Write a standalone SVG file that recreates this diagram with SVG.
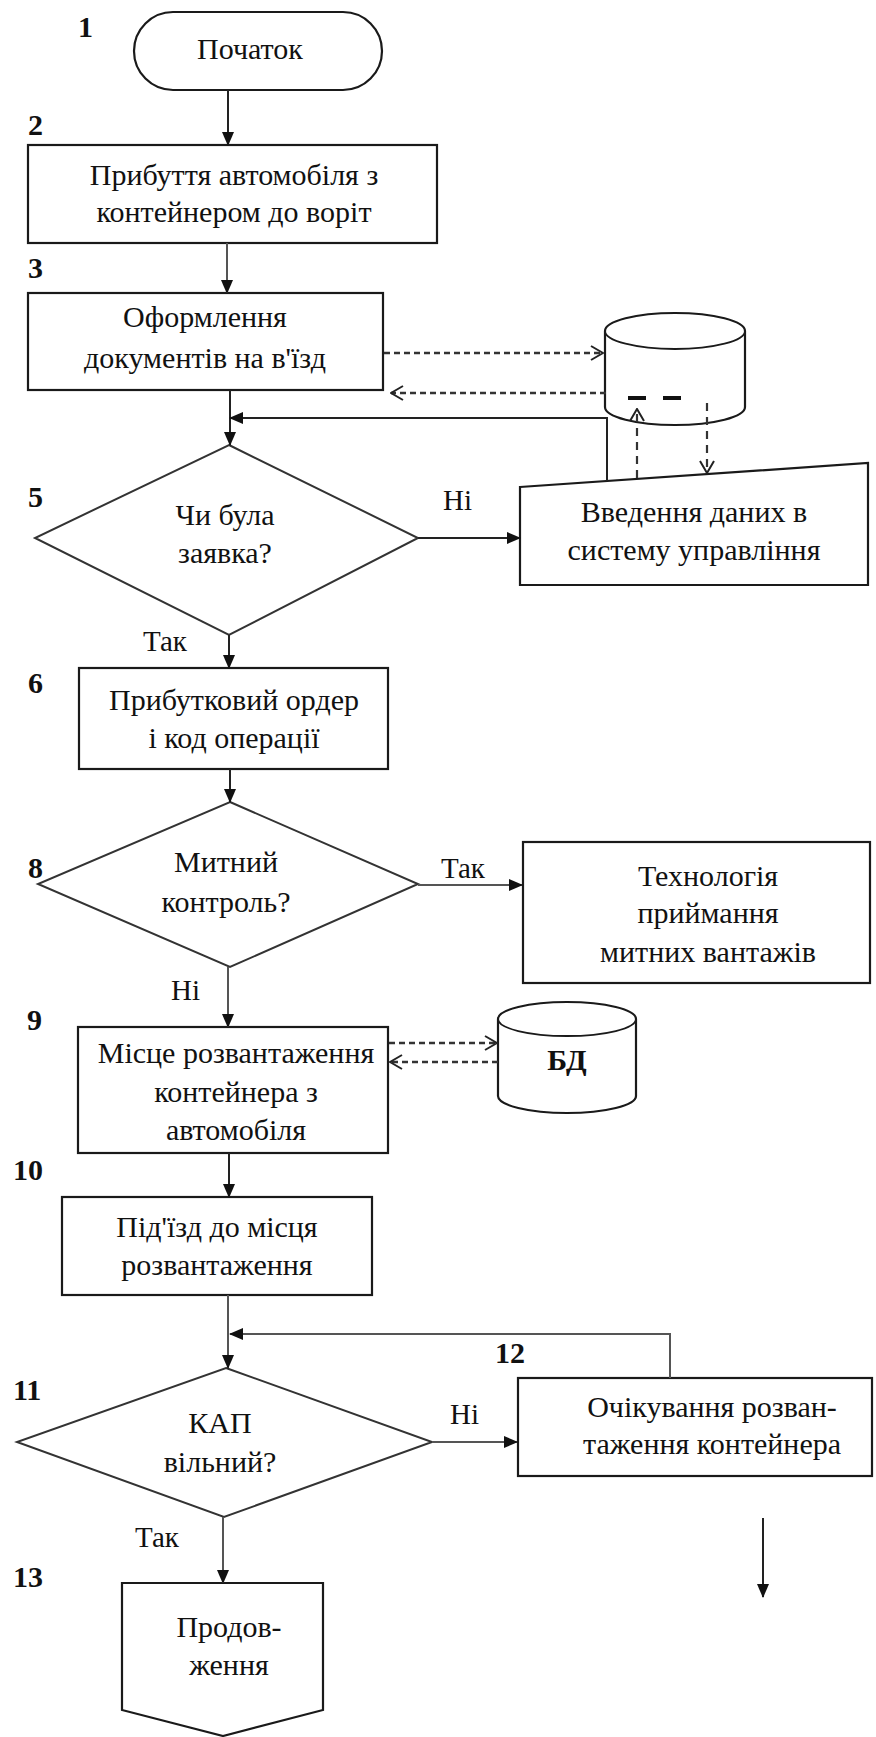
<svg xmlns="http://www.w3.org/2000/svg" width="876" height="1737" viewBox="0 0 876 1737">
<style>
.bg{fill:#fff}
.box{fill:#fff;stroke:#1a1a1a;stroke-width:2.2}
.dia{fill:#fff;stroke:#333;stroke-width:2}
.t{font-family:'Liberation Serif','DejaVu Serif','Times New Roman',serif;font-size:30px;fill:#111;text-anchor:middle}
.lb{font-family:'Liberation Serif','DejaVu Serif','Times New Roman',serif;font-size:29px;fill:#111}
.num{font-family:'Liberation Serif','DejaVu Serif','Times New Roman',serif;font-size:30px;font-weight:bold;fill:#111}
.c{fill:none;stroke:#222;stroke-width:2}
.g{fill:none;stroke:#555;stroke-width:2}
.d{fill:none;stroke:#333;stroke-width:2.6;stroke-dasharray:6,4}
.dv{fill:none;stroke:#333;stroke-width:2.2;stroke-dasharray:8,6}
</style>
<defs>
<marker id="ah" markerUnits="userSpaceOnUse" markerWidth="14" markerHeight="14" viewBox="0 0 14 14" refX="13" refY="7" orient="auto">
<path d="M0,1 L14,7 L0,13 Z" fill="#111"/>
</marker>
<marker id="oh" markerUnits="userSpaceOnUse" markerWidth="14" markerHeight="16" viewBox="0 0 14 16" refX="13" refY="8" orient="auto">
<path d="M1,1 L13,8 L1,15" fill="none" stroke="#222" stroke-width="2"/>
</marker>
</defs>
<rect class="bg" x="0" y="0" width="876" height="1737"/>

<g id="n1">
<rect class="box" x="134" y="12" width="248" height="78" rx="39" ry="39"/>
<text class="t" x="250" y="59">Початок</text>
<text class="num" x="78" y="37">1</text>
</g>
<g id="n2">
<rect class="box" x="28" y="145" width="409" height="98"/>
<text class="t" x="234" y="185">Прибуття автомобіля з</text>
<text class="t" x="234" y="222">контейнером до воріт</text>
<text class="num" x="28" y="135">2</text>
</g>
<g id="n3">
<rect class="box" x="28" y="293" width="355" height="97"/>
<text class="t" x="205" y="327">Оформлення</text>
<text class="t" x="205" y="368">документів на в'їзд</text>
<text class="num" x="28" y="278">3</text>
</g>
<g id="n4">
<path class="box" d="M605,331 A70,18 0 0 1 745,331 L745,407 A70,18 0 0 1 605,407 Z" stroke-width="1.8"/>
<path fill="none" stroke="#1a1a1a" stroke-width="1.8" d="M605,331 A70,18 0 0 0 745,331"/>
</g>
<g id="n5">
<polygon class="dia" points="229,445 418,538 229,635 35,538"/>
<text class="t" x="225" y="525">Чи була</text>
<text class="t" x="225" y="563">заявка?</text>
<text class="num" x="28" y="507">5</text>
</g>
<g id="n5b">
<polygon class="box" points="520,487 868,463 868,585 520,585"/>
<text class="t" x="694" y="522">Введення даних в</text>
<text class="t" x="694" y="560">систему управління</text>
</g>
<g id="n6">
<rect class="box" x="79" y="668" width="309" height="101"/>
<text class="t" x="234" y="710">Прибутковий ордер</text>
<text class="t" x="234" y="748">і код операції</text>
<text class="num" x="28" y="693">6</text>
</g>
<g id="n8">
<polygon class="dia" points="230,802 418,884 230,967 38,884"/>
<text class="t" x="226" y="872">Митний</text>
<text class="t" x="226" y="912">контроль?</text>
<text class="num" x="28" y="878">8</text>
</g>
<g id="n7">
<rect class="box" x="523" y="842" width="347" height="141"/>
<text class="t" x="708" y="886">Технологія</text>
<text class="t" x="708" y="923">приймання</text>
<text class="t" x="708" y="962">митних вантажів</text>
</g>
<g id="n9">
<rect class="box" x="78" y="1027" width="310" height="126"/>
<text class="t" x="236" y="1063">Місце розвантаження</text>
<text class="t" x="236" y="1102">контейнера з</text>
<text class="t" x="236" y="1140">автомобіля</text>
<text class="num" x="27" y="1030">9</text>
</g>
<g id="nbd">
<path class="box" d="M498,1019 A69,17 0 0 1 636,1019 L636,1096 A69,17 0 0 1 498,1096 Z" stroke-width="1.8"/>
<path fill="none" stroke="#1a1a1a" stroke-width="1.8" d="M498,1019 A69,17 0 0 0 636,1019"/>
<text class="t" x="567" y="1070" font-weight="bold" font-size="34">БД</text>
</g>
<g id="n10">
<rect class="box" x="62" y="1197" width="310" height="98"/>
<text class="t" x="217" y="1237">Під'їзд до місця</text>
<text class="t" x="217" y="1275">розвантаження</text>
<text class="num" x="13" y="1180">10</text>
</g>
<g id="n11">
<polygon class="dia" points="226,1368 432,1442 224,1517 17,1442"/>
<text class="t" x="220" y="1433">КАП</text>
<text class="t" x="220" y="1472">вільний?</text>
<text class="num" x="13" y="1400">11</text>
</g>
<g id="n12">
<rect class="box" x="518" y="1378" width="354" height="98"/>
<text class="t" x="712" y="1417">Очікування розван-</text>
<text class="t" x="712" y="1454">таження контейнера</text>
<text class="num" x="495" y="1363">12</text>
</g>
<g id="n13">
<polygon class="box" points="122,1583 323,1583 323,1710 223,1736 122,1710"/>
<text class="t" x="229" y="1637">Продов-</text>
<text class="t" x="229" y="1675">ження</text>
<text class="num" x="13" y="1587">13</text>
</g>

<g id="connectors">
<line class="c" x1="228" y1="90" x2="228" y2="145" marker-end="url(#ah)"/>
<line class="g" x1="227" y1="243" x2="227" y2="293" marker-end="url(#ah)"/>
<line class="c" x1="230" y1="390" x2="230" y2="445" marker-end="url(#ah)"/>
<path class="c" d="M607,481 V418 H230" marker-end="url(#ah)"/>
<line class="d" x1="384" y1="353" x2="603" y2="353" marker-end="url(#oh)"/>
<line class="d" x1="606" y1="393" x2="391" y2="393" marker-end="url(#oh)"/>
<line x1="628" y1="398" x2="686" y2="398" stroke="#111" stroke-width="4" stroke-dasharray="18,17"/>
<line class="dv" x1="637" y1="478" x2="637" y2="409" marker-end="url(#oh)"/>
<line class="dv" x1="707" y1="403" x2="707" y2="473" marker-end="url(#oh)"/>
<line class="c" x1="418" y1="538" x2="520" y2="538" marker-end="url(#ah)"/>
<line class="c" x1="229" y1="635" x2="229" y2="668" marker-end="url(#ah)"/>
<line class="c" x1="230" y1="769" x2="230" y2="802" marker-end="url(#ah)"/>
<line class="g" x1="418" y1="885" x2="522" y2="885" marker-end="url(#ah)"/>
<line class="g" x1="228" y1="967" x2="228" y2="1027" marker-end="url(#ah)"/>
<line class="d" x1="389" y1="1043" x2="497" y2="1043" marker-end="url(#oh)"/>
<line class="d" x1="498" y1="1062" x2="390" y2="1062" marker-end="url(#oh)"/>
<line class="c" x1="229" y1="1153" x2="229" y2="1197" marker-end="url(#ah)"/>
<line class="g" x1="228" y1="1295" x2="228" y2="1368" marker-end="url(#ah)"/>
<path class="g" d="M670,1378 V1334 H230" marker-end="url(#ah)"/>
<line class="g" x1="432" y1="1442" x2="517" y2="1442" marker-end="url(#ah)"/>
<line class="g" x1="223" y1="1517" x2="223" y2="1583" marker-end="url(#ah)"/>
<line class="c" x1="763" y1="1518" x2="763" y2="1597" marker-end="url(#ah)"/>
<text class="lb" x="443" y="510">Ні</text>
<text class="lb" x="143" y="651">Так</text>
<text class="lb" x="441" y="878">Так</text>
<text class="lb" x="171" y="1000">Ні</text>
<text class="lb" x="450" y="1424">Ні</text>
<text class="lb" x="135" y="1547">Так</text>
</g>
</svg>
